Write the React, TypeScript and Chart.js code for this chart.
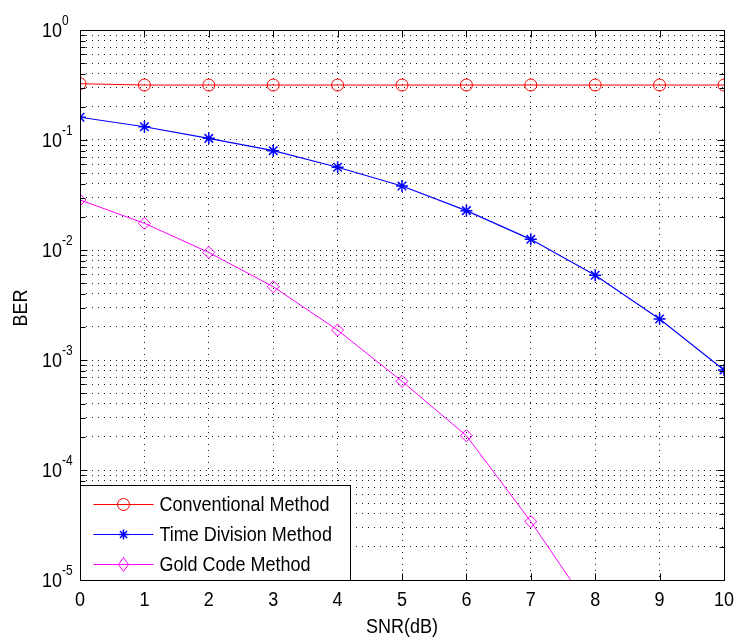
import React, { useEffect, useRef } from "react";
import { Chart, registerables } from "chart.js";

Chart.register(...registerables);

// ---- data ----
const snr = [0, 1, 2, 3, 4, 5, 6, 7, 8, 9, 10];
const conventional = [0.325, 0.316, 0.316, 0.316, 0.316, 0.316, 0.316, 0.316, 0.316, 0.316, 0.316];
const timeDivision = [0.161, 0.132, 0.1035, 0.08, 0.0565, 0.0382, 0.0228, 0.0125, 0.0059, 0.00236, 0.00081];
const goldCode = [0.0285, 0.0175, 0.0095, 0.00464, 0.00187, 0.00064, 0.000205, 0.000034, 0.0000047];
const seriesNames = ["Conventional Method", "Time Division Method", "Gold Code Method"];
const seriesColors = ["#ff0000", "#0000ff", "#ff00ff"];
const decadeExponents = [-5, -4, -3, -2, -1, 0];
const xTickLabels = ["0", "1", "2", "3", "4", "5", "6", "7", "8", "9", "10"];
const xTitle = "SNR(dB)";
const yTitle = "BER";

const FONT = '"Liberation Sans", Arial, sans-serif';
const SY = 1.15;

function yTickList() {
  const ticks: { value: number; major: boolean }[] = [];
  for (let i = 0; i < decadeExponents.length; i++) {
    const e = decadeExponents[i];
    ticks.push({ value: Math.pow(10, e), major: true });
    if (i < decadeExponents.length - 1) {
      for (let m = 2; m <= 9; m++) ticks.push({ value: m * Math.pow(10, e), major: false });
    }
  }
  return ticks;
}

function text(ctx: CanvasRenderingContext2D, s: string, x: number, y: number, align: CanvasTextAlign, size: number) {
  ctx.save();
  ctx.translate(x, y);
  ctx.scale(1, SY);
  ctx.font = `${size}px ${FONT}`;
  ctx.textAlign = align;
  ctx.textBaseline = "alphabetic";
  ctx.fillStyle = "#000";
  ctx.fillText(s, 0, 0);
  ctx.restore();
}

function marker(ctx: CanvasRenderingContext2D, kind: number, x: number, y: number, color: string) {
  ctx.save();
  ctx.strokeStyle = color;
  ctx.lineWidth = 1;
  ctx.beginPath();
  if (kind === 0) {
    ctx.arc(x, y, 6, 0, Math.PI * 2);
  } else if (kind === 1) {
    const r = 5;
    const d = r * Math.SQRT1_2;
    ctx.moveTo(x - r, y); ctx.lineTo(x + r, y);
    ctx.moveTo(x, y - r); ctx.lineTo(x, y + r);
    ctx.moveTo(x - d, y - d); ctx.lineTo(x + d, y + d);
    ctx.moveTo(x - d, y + d); ctx.lineTo(x + d, y - d);
    ctx.lineWidth = 1.5;
  } else {
    ctx.moveTo(x, y - 7); ctx.lineTo(x + 5, y); ctx.lineTo(x, y + 7); ctx.lineTo(x - 5, y); ctx.closePath();
  }
  ctx.stroke();
  ctx.restore();
}

const decorPlugin = {
  id: "matlabDecor",
  afterDraw(chart: any) {
    const { ctx, chartArea: a, scales } = chart;
    const xs = scales.x;
    const ys = scales.y;
    const L = Math.round(a.left) + 0.5;
    const R = Math.round(a.right) + 0.5;
    const T = Math.round(a.top) + 0.5;
    const B = Math.round(a.bottom) + 0.5;
    ctx.save();
    ctx.strokeStyle = "#000";
    ctx.lineWidth = 1;
    ctx.beginPath();
    for (const v of snr) {
      const px = Math.round(xs.getPixelForValue(v)) + 0.5;
      ctx.moveTo(px, B); ctx.lineTo(px, B - 7);
      ctx.moveTo(px, T); ctx.lineTo(px, T + 7);
    }
    for (const t of yTickList()) {
      const py = Math.round(ys.getPixelForValue(t.value)) + 0.5;
      const len = t.major ? 7 : 5;
      ctx.moveTo(L, py); ctx.lineTo(L + len, py);
      ctx.moveTo(R, py); ctx.lineTo(R - len, py);
    }
    ctx.stroke();
    ctx.strokeRect(L, T, R - L, B - T);

    // x tick labels
    snr.forEach((v, i) => {
      text(ctx, xTickLabels[i], xs.getPixelForValue(v), a.bottom + 26, "center", 18);
    });
    // y tick labels (10^e)
    for (const e of decadeExponents) {
      const py = ys.getPixelForValue(Math.pow(10, e));
      text(ctx, "10", a.left - 18, py + 7, "right", 18);
      text(ctx, String(e), a.left - 18, py - 5, "left", 12);
    }
    // titles
    text(ctx, xTitle, (a.left + a.right) / 2, a.bottom + 53, "center", 18);
    ctx.save();
    ctx.translate(27, (a.top + a.bottom) / 2 + 3);
    ctx.rotate(-Math.PI / 2);
    text(ctx, yTitle, 0, 0, "center", 18);
    ctx.restore();

    // legend
    const lx = L, ly = Math.round(a.bottom) - 95 + 0.5, lw = 270, lh = B - ly;
    ctx.fillStyle = "#fff";
    ctx.fillRect(lx, ly, lw, lh);
    ctx.strokeStyle = "#000";
    ctx.strokeRect(lx, ly, lw, lh);
    seriesNames.forEach((name, i) => {
      const ry = ly + 18 + i * 30;
      ctx.strokeStyle = seriesColors[i];
      ctx.lineWidth = 1;
      ctx.beginPath();
      ctx.moveTo(lx + 13, Math.round(ry) + 0.5);
      ctx.lineTo(lx + 73, Math.round(ry) + 0.5);
      ctx.stroke();
      marker(ctx, i, lx + 43, Math.round(ry) + 0.5, seriesColors[i]);
      text(ctx, name, lx + 79, ry + 7.5, "left", 18);
    });
    ctx.restore();
  },
};

export default function App() {
  const ref = useRef<HTMLCanvasElement>(null);
  useEffect(() => {
    document.body.style.margin = "0";
    const mk = (vals: number[]) => vals.map((v, i) => ({ x: snr[i], y: v }));
    const chart = new Chart(ref.current as HTMLCanvasElement, {
      type: "line",
      data: {
        datasets: [
          {
            label: seriesNames[0],
            data: mk(conventional),
            borderColor: seriesColors[0],
            backgroundColor: "transparent",
            pointStyle: "circle",
            pointRadius: 6,
            pointBorderColor: seriesColors[0],
            pointBackgroundColor: "transparent",
            pointBorderWidth: 1,
            borderWidth: 1,
          },
          {
            label: seriesNames[1],
            data: mk(timeDivision),
            borderColor: seriesColors[1],
            backgroundColor: "transparent",
            pointStyle: "star",
            pointRadius: 6,
            pointBorderColor: seriesColors[1],
            pointBackgroundColor: "transparent",
            pointBorderWidth: 1.5,
            borderWidth: 1.2,
          },
          {
            label: seriesNames[2],
            data: mk(goldCode),
            borderColor: seriesColors[2],
            backgroundColor: "transparent",
            pointStyle: "rectRot",
            pointRadius: 6,
            pointBorderColor: seriesColors[2],
            pointBackgroundColor: "transparent",
            pointBorderWidth: 1,
            borderWidth: 1,
          },
        ],
      },
      options: {
        animation: false,
        responsive: false,
        devicePixelRatio: 1,
        layout: { padding: { top: 30, right: 11, left: 0, bottom: 0 } },
        plugins: { legend: { display: false }, tooltip: { enabled: false } },
        elements: { line: { tension: 0 } },
        scales: {
          x: {
            type: "linear",
            min: 0,
            max: 10,
            ticks: { display: false, stepSize: 1 },
            grid: { color: "rgba(0,0,0,0.9)", lineWidth: 1, drawTicks: false },
            border: { display: false, dash: [1, 5] },
            afterFit: (s: any) => { s.height = 58; },
          },
          y: {
            type: "logarithmic",
            min: 1e-5,
            max: 1,
            ticks: { display: false, autoSkip: false },
            grid: { color: "rgba(0,0,0,0.9)", lineWidth: 1, drawTicks: false },
            border: { display: false, dash: [1, 5] },
            afterBuildTicks: (s: any) => { s.ticks = yTickList(); },
            afterFit: (s: any) => { s.width = 80; },
          },
        },
      } as any,
      plugins: [decorPlugin],
    });
    return () => chart.destroy();
  }, []);
  return (
    <div style={{ position: "fixed", left: 0, top: 0, width: 735, height: 638, background: "#fff" }}>
      <canvas ref={ref} width={735} height={638} style={{ width: 735, height: 638, display: "block" }} />
    </div>
  );
}
